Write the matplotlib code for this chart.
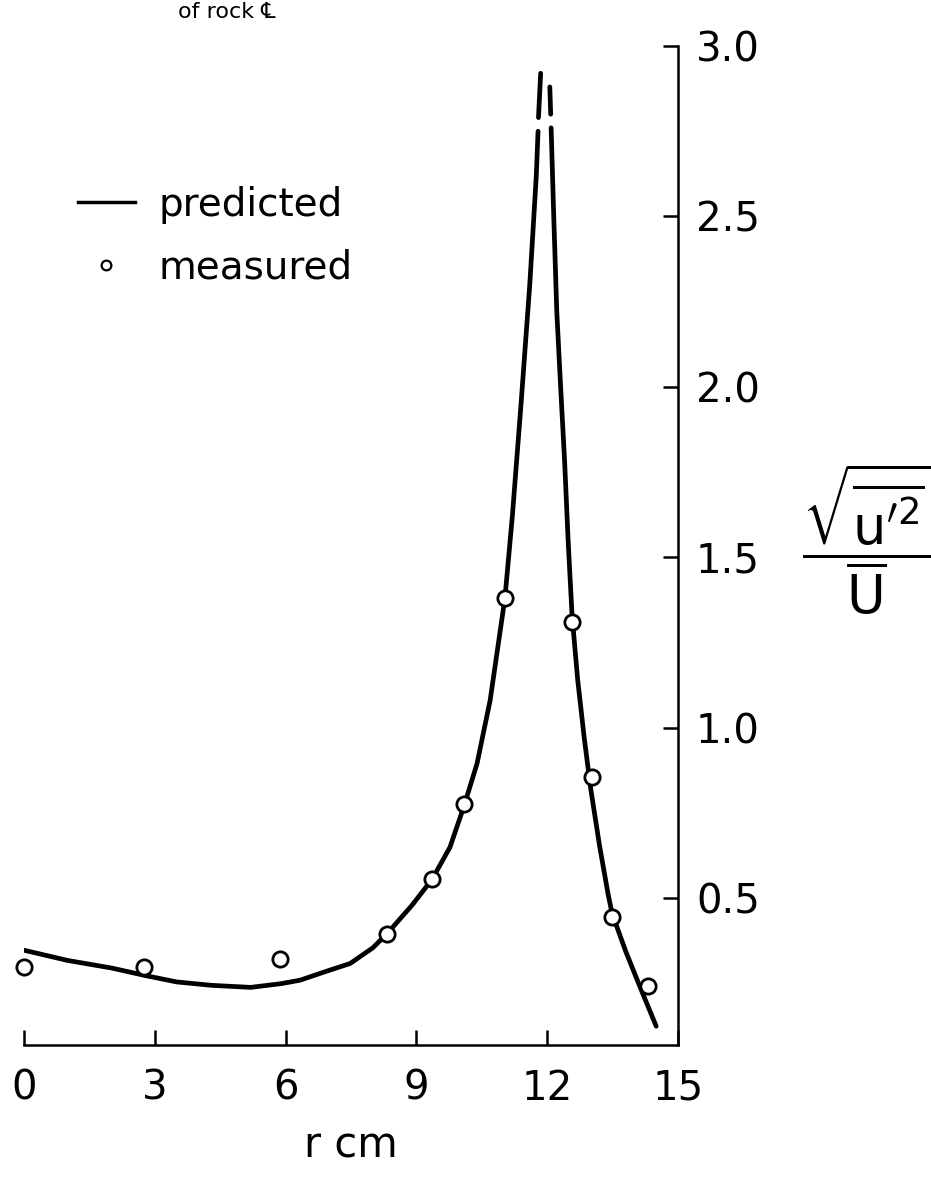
import matplotlib.pyplot as plt
from matplotlib.lines import Line2D

plt.rcParams['font.family'] = ['DejaVu Sans']
plt.rcParams['mathtext.fontset'] = 'dejavusans'

# predicted curve, left branch (rising to the peak) and right branch (falling)
# each branch has a small break near the tip, as in the scan
left_r = [0, 1.0, 2.0, 2.77, 3.5, 4.3, 5.2, 5.9, 6.33, 7.0, 7.48, 8.0, 8.33,
          8.9, 9.36, 9.77, 10.09, 10.39, 10.69, 11.03, 11.2, 11.4, 11.6,
          11.75, 11.79]
left_v = [0.348, 0.318, 0.296, 0.274, 0.255, 0.245, 0.239, 0.25, 0.26, 0.289,
          0.309, 0.355, 0.397, 0.48, 0.556, 0.65, 0.77, 0.895, 1.08, 1.38,
          1.62, 1.95, 2.30, 2.62, 2.75]
left_tip_r = [11.80, 11.85]
left_tip_v = [2.79, 2.92]

right_tip_r = [12.06, 12.08]
right_tip_v = [2.88, 2.80]
right_r = [12.09, 12.15, 12.22, 12.30, 12.40, 12.48, 12.57, 12.70, 12.85,
           13.00, 13.20, 13.40, 13.49, 13.80, 14.13, 14.50]
right_v = [2.76, 2.50, 2.22, 2.02, 1.78, 1.55, 1.33, 1.14, 0.97, 0.82, 0.655,
           0.51, 0.455, 0.345, 0.24, 0.125]

# measured points
meas_r = [0, 2.75, 5.87, 8.33, 9.36, 10.09, 11.03, 12.57, 13.03, 13.49, 14.31]
meas_v = [0.30, 0.298, 0.321, 0.397, 0.556, 0.776, 1.38, 1.31, 0.855, 0.445,
          0.242]

x_ticks = [0, 3, 6, 9, 12, 15]
y_ticks = [0.5, 1.0, 1.5, 2.0, 2.5, 3.0]
y_ticklabels = ['0.5', '1.0', '1.5', '2.0', '2.5', '3.0']

W, H = 931, 1180
fig = plt.figure(figsize=(W / 100, H / 100), dpi=100)
ax = fig.add_axes([24 / W, 135 / H, 654 / W, (1134 - 135) / H])

lw = 3.4
for r, v in [(left_r, left_v), (left_tip_r, left_tip_v),
             (right_tip_r, right_tip_v), (right_r, right_v)]:
    ax.plot(r, v, color='black', lw=lw, solid_capstyle='round',
            solid_joinstyle='round')

ax.plot(meas_r, meas_v, linestyle='none', marker='o', ms=11,
        mfc='white', mec='black', mew=2.0, zorder=3, clip_on=False)

ax.set_xlim(0, 15)
ax.set_ylim(0.07, 3.0)

ax.spines['left'].set_visible(False)
ax.spines['top'].set_visible(False)
ax.spines['bottom'].set_linewidth(1.8)
ax.spines['right'].set_linewidth(1.8)

ax.yaxis.tick_right()
ax.set_xticks(x_ticks)
ax.set_xticklabels([str(t) for t in x_ticks])
ax.set_yticks(y_ticks)
ax.set_yticklabels(y_ticklabels)
ax.tick_params(axis='x', direction='in', length=11, width=1.8, pad=17,
               labelsize=29)
ax.tick_params(axis='y', direction='in', length=11, width=1.8, pad=13,
               labelsize=29)

ax.set_xlabel('r cm', fontsize=30, labelpad=2)
ax.xaxis.set_label_coords(0.5, -0.08)

fig.text(866 / W, 1 - 540 / H,
         r'$\dfrac{\sqrt{\overline{\mathrm{u}^{\prime 2}}}}{\overline{\mathrm{U}}}$',
         fontsize=38, ha='center', va='center')

# caption cut off at the top edge of the scan
fig.text(178 / W, 1 - 2 / H, 'of rock \u2104', fontsize=16,
         ha='left', va='top')

handles = [
    Line2D([], [], color='black', lw=2.5),
    Line2D([], [], linestyle='none', marker='o', ms=7, mfc='white',
           mec='black', mew=1.6),
]
ax.legend(handles, ['predicted', 'measured'], loc='upper left',
          bbox_to_anchor=(78 / W, 1 - 186 / H),
          bbox_transform=fig.transFigure, frameon=False, fontsize=28,
          handlelength=1.46, handletextpad=0.6, labelspacing=0.62,
          borderaxespad=0, borderpad=0)

fig.savefig('out.png', dpi=100)
